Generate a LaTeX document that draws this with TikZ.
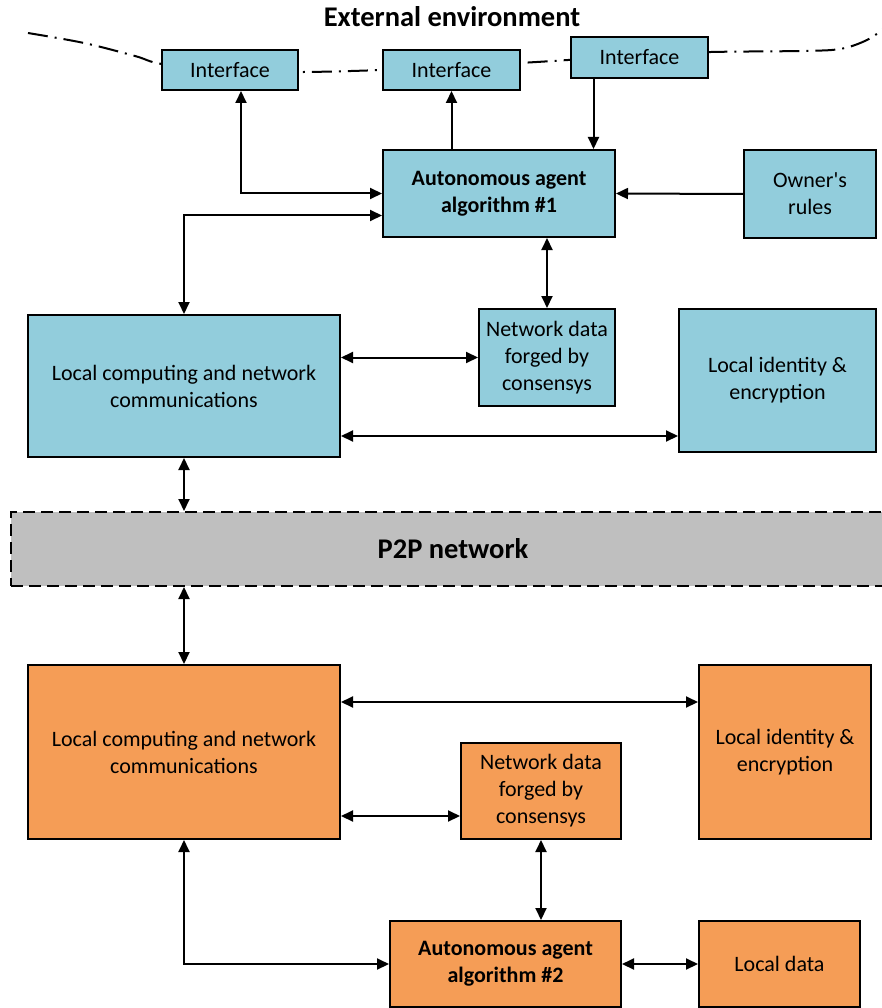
\documentclass[tikz,border=0pt]{standalone}
\usepackage{fontspec}
\setmainfont{Carlito}
\usetikzlibrary{arrows.meta}

\definecolor{agentblue}{RGB}{146,205,220}
\definecolor{agentorange}{RGB}{245,157,86}
\definecolor{netgray}{RGB}{191,191,191}

\tikzset{
  blk/.style={draw, line width=2pt, inner sep=0pt, align=center,
    font=\fontsize{22}{27}\selectfont},
  blueblk/.style={blk, fill=agentblue},
  orangeblk/.style={blk, fill=agentorange},
  link/.style={line width=2pt},
  envline/.style={line width=2pt, dash pattern=on 20pt off 7pt on 2pt off 7pt},
}

\begin{document}
\begin{tikzpicture}[x=1pt,y=-1pt,>={Triangle[length=12pt,width=11pt]}]
    \useasboundingbox (0,0) rectangle (882,1008);

    % boundary of the external environment
    \draw[envline] plot[smooth,tension=0.55] coordinates {(28,33) (84,43) (135,56)
        (162,64) (230,71) (304,72) (382,70) (450,67) (520,63) (568,60) (640,55)
        (711,52) (800,51) (840,49) (867,40) (886,27)};
    \node[font=\bfseries\fontsize{28.5}{33}\selectfont] (env) at (452,17) {External environment};

    % node 1
    \node[blueblk, minimum width=136pt, minimum height=40pt] (i1) at (230,70) {Interface};
    \node[blueblk, minimum width=137pt, minimum height=40pt] (i2) at (451.5,70) {Interface};
    \node[blueblk, minimum width=137pt, minimum height=41pt] (i3) at (639.5,57.5) {Interface};
    \node[blueblk, minimum width=232pt, minimum height=87pt, font=\bfseries\fontsize{22}{27}\selectfont]
        (a1) at (499,193.5) {Autonomous agent\\algorithm \#1};
    \node[blueblk, minimum width=132pt, minimum height=88pt] (own) at (810,194)
        {Owner\textquotesingle s\\rules};
    \node[blueblk, minimum width=312pt, minimum height=142pt] (lc1) at (184,386)
        {Local computing and network\\communications};
    \node[blueblk, minimum width=136pt, minimum height=97pt] (nd1) at (547,357.5)
        {Network data\\forged by\\consensys};
    \node[blueblk, minimum width=197pt, minimum height=143pt] (li1) at (777.5,380.5)
        {Local identity \&\\encryption};

    % network
    \node[draw, fill=netgray, line width=2pt, dash pattern=on 12pt off 6pt,
        minimum width=884pt, minimum height=74pt, font=\bfseries\fontsize{28.5}{33}\selectfont]
        (p2p) at (453,549) {P2P network};

    % node 2
    \node[orangeblk, minimum width=312pt, minimum height=174pt] (lc2) at (184,752)
        {Local computing and network\\communications};
    \node[orangeblk, minimum width=160pt, minimum height=96pt] (nd2) at (541,791)
        {Network data\\forged by\\consensys};
    \node[orangeblk, minimum width=172pt, minimum height=174pt] (li2) at (785,752)
        {Local identity \&\\encryption};
    \node[orangeblk, minimum width=231pt, minimum height=86pt, font=\bfseries\fontsize{22}{27}\selectfont]
        (a2) at (505.5,964) {Autonomous agent\\algorithm \#2};
    \node[orangeblk, minimum width=161pt, minimum height=86pt] (ld) at (779.5,964) {Local data};

    % links of node 1
    \draw[link,<->] ([xshift=11pt]i1.south) |- (a1.west);
    \draw[link,->] (i2.south |- a1.north) -- (i2.south);
    \draw[link,->] ([xshift=-46pt]i3.south) -- ([xshift=-46pt]i3.south |- a1.north);
    \draw[link,->] (own.west) -- (a1.east);
    \draw[link,<->] (lc1.north) |- ([yshift=-22pt]a1.west);
    \draw[link,<->] (a1.south -| nd1.north) -- (nd1.north);
    \draw[link,<->] (lc1.east |- nd1.west) -- (nd1.west);
    \draw[link,<->] ([yshift=-50pt]lc1.east) -- ([yshift=-50pt]lc1.east -| li1.west);
    \draw[link,<->] (lc1.south) -- (lc1.south |- p2p.north);

    % links of node 2
    \draw[link,<->] (lc2.north |- p2p.south) -- (lc2.north);
    \draw[link,<->] ([yshift=50pt]lc2.east) -- ([yshift=50pt]lc2.east -| li2.west);
    \draw[link,<->] ([yshift=-64pt]lc2.east) -- ([yshift=-64pt]lc2.east -| nd2.west);
    \draw[link,<->] (nd2.south) -- (nd2.south |- a2.north);
    \draw[link,<->] (lc2.south) |- (a2.west);
    \draw[link,<->] (a2.east) -- (ld.west);
\end{tikzpicture}
\end{document}
